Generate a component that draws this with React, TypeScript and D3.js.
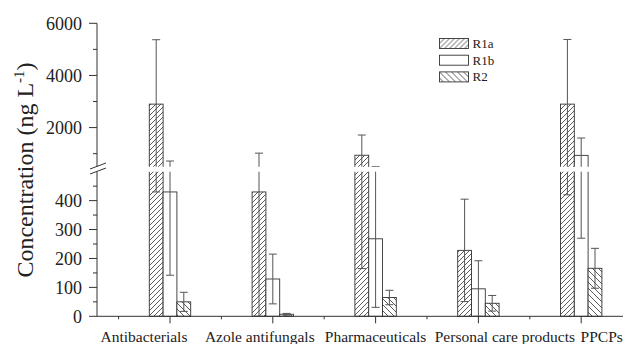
import { scaleLinear, scalePoint, scaleBand } from "d3";

const width = 625;
const height = 344;

const categories = ["Antibacterials", "Azole antifungals", "Pharmaceuticals", "Personal care products", "PPCPs"];
// labels are shifted off their ticks in the original so they don't collide
const labelShift = [-26, -13, 0, 26.5, 20.5];
const seriesNames = ["R1a", "R1b", "R2"];
const r1a = [2900, 430, 940, 228, 2900];
const r1aErr = [2470, 590, 775, 177, 2480];
const r1b = [430, 129, 268, 95, 935];
const r1bErr = [288, 86, 237, 97, 665];
const r2 = [50, 7, 65, 45, 166];
const r2Err = [33, 3, 25, 27, 69];
const lowerTicks = [0, 100, 200, 300, 400];
const lowerMinor = [50, 150, 250, 350, 450];
const upperTicks = [2000, 4000, 6000];
const upperMinor = [1000, 3000, 5000];

const values = [r1a, r1b, r2];
const errors = [r1aErr, r1bErr, r2Err];
const fills = ["url(#hatchF)", "#fff", "url(#hatchB)"];

const axisX = 97;
const axisRight = 623;
const font = "'Liberation Serif', 'Times New Roman', serif";

// two y scales for the broken axis
const yLow = scaleLinear().domain([0, 500]).range([316.3, 171.7]);
const yUp = scaleLinear().domain([500, 6000]).range([166.7, 23.3]);

const xScale = scalePoint<string>().domain(categories).range([170, 581.2]);
const step = xScale.step();
const sub = scaleBand<string>().domain(seriesNames).range([-20.7, 20.7]);

function Bars({ y, base }: { y: (v: number) => number; base: number }) {
  return (
    <g>
      {values.map((vals, s) =>
        vals.map((v, i) => {
          const x0 = (xScale(categories[i]) as number) + (sub(seriesNames[s]) as number);
          const top = y(v);
          return (
            <rect key={s + "-" + i} x={x0} y={top} width={sub.bandwidth()} height={base - top}
              fill={fills[s]} stroke="#333" strokeWidth={0.9} />
          );
        })
      )}
      {values.map((vals, s) =>
        vals.map((v, i) => {
          const cx = (xScale(categories[i]) as number) + (sub(seriesNames[s]) as number) + sub.bandwidth() / 2;
          const lo = Math.max(0, v - errors[s][i]);
          const hi = v + errors[s][i];
          return (
            <g key={"e" + s + "-" + i} stroke="#555" strokeWidth={1}>
              <line x1={cx} x2={cx} y1={y(lo)} y2={y(hi)} />
              <line x1={cx - 4} x2={cx + 4} y1={y(hi)} y2={y(hi)} />
              <line x1={cx - 4} x2={cx + 4} y1={y(lo)} y2={y(lo)} />
            </g>
          );
        })
      )}
    </g>
  );
}

export default function App() {
  const minorX = categories.map((c) => (xScale(c) as number) - step / 2);
  return (
    <svg width={width} height={height} style={{ position: "absolute", left: 0, top: 0, background: "#fff" }}
      fontFamily={font}>
      <defs>
        <pattern id="hatchF" patternUnits="userSpaceOnUse" width={5} height={5}>
          <rect width={5} height={5} fill="#fff" />
          <path d="M0,5 L5,0 M-1,1 L1,-1 M4,6 L6,4" stroke="#333" strokeWidth={0.8} />
        </pattern>
        <pattern id="hatchB" patternUnits="userSpaceOnUse" width={6} height={6}>
          <rect width={6} height={6} fill="#fff" />
          <path d="M0,0 L6,6 M-1,5 L1,7 M5,-1 L7,1" stroke="#333" strokeWidth={0.8} />
        </pattern>
        <clipPath id="clipLow">
          <rect x={0} y={171.7} width={width} height={height - 171.7} />
        </clipPath>
        <clipPath id="clipUp">
          <rect x={0} y={0} width={width} height={166.7} />
        </clipPath>
      </defs>

      <g clipPath="url(#clipLow)">
        <Bars y={yLow} base={yLow(0)} />
      </g>
      <g clipPath="url(#clipUp)">
        <Bars y={yUp} base={yUp(500) + 20} />
      </g>

      {/* y axis */}
      <g stroke="#333" strokeWidth={1}>
        <line x1={axisX} x2={axisX} y1={yLow(0)} y2={171.7} />
        <line x1={axisX} x2={axisX} y1={166.7} y2={yUp(6000)} />
        {lowerTicks.map((t) => (
          <line key={"lt" + t} x1={axisX - 8} x2={axisX} y1={yLow(t)} y2={yLow(t)} />
        ))}
        {lowerMinor.map((t) => (
          <line key={"lm" + t} x1={axisX - 4} x2={axisX} y1={yLow(t)} y2={yLow(t)} />
        ))}
        {upperTicks.map((t) => (
          <line key={"ut" + t} x1={axisX - 8} x2={axisX} y1={yUp(t)} y2={yUp(t)} />
        ))}
        {upperMinor.map((t) => (
          <line key={"um" + t} x1={axisX - 4} x2={axisX} y1={yUp(t)} y2={yUp(t)} />
        ))}
        <line x1={90} x2={106} y1={169} y2={163} />
        <line x1={90} x2={106} y1={174} y2={168} />
      </g>
      <g fontSize={18} fill="#222" textAnchor="end">
        {lowerTicks.map((t) => (
          <text key={"ll" + t} x={82} y={yLow(t)} dy="0.35em">{t}</text>
        ))}
        {upperTicks.map((t) => (
          <text key={"ul" + t} x={82} y={yUp(t)} dy="0.35em">{t}</text>
        ))}
      </g>
      <text transform="translate(33,170) rotate(-90)" textAnchor="middle" fontSize={24} fill="#222">
        Concentration (ng L<tspan dy={-9} fontSize={15}>-1</tspan><tspan dy={9}>)</tspan>
      </text>

      {/* x axis */}
      <g stroke="#333" strokeWidth={1}>
        <line x1={axisX} x2={axisRight} y1={yLow(0)} y2={yLow(0)} />
        {categories.map((c) => (
          <line key={"xt" + c} x1={xScale(c)} x2={xScale(c)} y1={yLow(0)} y2={yLow(0) + 7} />
        ))}
        {minorX.map((m, i) => (
          <line key={"xm" + i} x1={m} x2={m} y1={yLow(0)} y2={yLow(0) + 3} />
        ))}
      </g>
      <g fontSize={15.5} fill="#222" textAnchor="middle">
        {categories.map((c, i) => (
          <text key={"xl" + c} x={(xScale(c) as number) + labelShift[i]} y={342}>{c}</text>
        ))}
      </g>

      {/* legend */}
      {seriesNames.map((s, i) => (
        <g key={"lg" + s} transform={`translate(439.5,${38.5 + i * 16.7})`}>
          <rect width={29} height={10} fill={fills[i]} stroke="#333" strokeWidth={0.9} />
          <text x={33} y={5} dy="0.35em" fontSize={13} fill="#222">{s}</text>
        </g>
      ))}
    </svg>
  );
}
